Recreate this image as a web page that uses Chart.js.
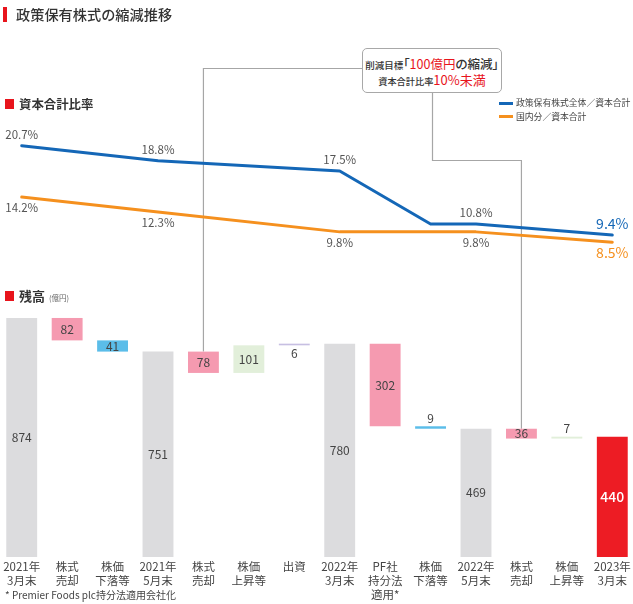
<!DOCTYPE html>
<html><head><meta charset="utf-8">
<script src="https://cdn.jsdelivr.net/npm/chart.js@4.4.0/dist/chart.umd.min.js"></script>
<style>
html,body{margin:0;padding:0;background:#fff;overflow:hidden;width:633px;height:604px;font-family:"Noto Sans CJK JP","Noto Sans",sans-serif;color:#333}
#wrap{position:relative;width:633px;height:604px;overflow:hidden}
#c{position:absolute;left:-1px;top:0}
.abs{position:absolute;white-space:nowrap;z-index:2}
.red{color:#e8141c}
#box{position:absolute;left:362px;top:48px;width:140px;height:45px;box-sizing:border-box;border:1px solid #a8a8a8;border-radius:5px;background:#fff;z-index:3;font-feature-settings:"palt"}
#box div{position:absolute;left:0;width:100%;text-align:center;white-space:nowrap;color:#333}
</style></head>
<body><div id="wrap">
<canvas id="c" width="636" height="604" style="width:636px;height:604px"></canvas>

<div class="abs" style="left:3px;top:7px;width:4px;height:15px;background:#e8141c"></div>
<div class="abs" style="left:16px;top:4px;font-size:14.2px;line-height:20px;font-weight:500;color:#333">政策保有株式の縮減推移</div>

<div class="abs" style="left:5px;top:99px;width:9px;height:10px;background:#e8141c"></div>
<div class="abs" style="left:19px;top:96px;font-size:12.4px;line-height:16px;font-weight:bold;color:#333">資本合計比率</div>

<div class="abs" style="left:5px;top:291px;width:9px;height:10px;background:#e8141c"></div>
<div class="abs" style="left:19px;top:288px;font-size:13px;line-height:16px;font-weight:bold;color:#333">残高<span style="font-size:7.5px;font-weight:normal;color:#666;margin-left:4px">(億円)</span></div>

<div class="abs" style="left:499px;top:102px;width:14px;height:3px;background:#1467b7"></div>
<div class="abs" style="left:516px;top:96px;font-size:8.8px;line-height:14px;color:#444">政策保有株式全体／資本合計</div>
<div class="abs" style="left:499px;top:115px;width:14px;height:3px;background:#f5901e"></div>
<div class="abs" style="left:516px;top:109.5px;font-size:8.8px;line-height:14px;color:#444">国内分／資本合計</div>

<div id="box">
  <div style="top:4px;line-height:18px"><span style="font-size:9.5px;font-weight:500">削減目標</span><span style="font-size:12.5px;font-weight:500">「<span class="red" style="font-weight:400">100億円</span>の縮減」</span></div>
  <div style="top:20px;line-height:18px"><span style="font-size:9.2px;font-weight:500">資本合計比率</span><span class="red" style="font-size:13px;font-weight:400">10%未満</span></div>
</div>

<div class="abs" style="left:5px;top:588px;font-size:10px;line-height:14px;color:#444">* Premier Foods plc持分法適用会社化</div>
</div>
<script>
// ---- data ----
const categories = [
  ['2021年','3月末'], ['株式','売却'], ['株価','下落等'], ['2021年','5月末'],
  ['株式','売却'], ['株価','上昇等'], ['出資'], ['2022年','3月末'],
  ['PF社','持分法','適用*'], ['株価','下落等'], ['2022年','5月末'],
  ['株式','売却'], ['株価','上昇等'], ['2023年','3月末']
];
const amounts = [874, -82, -41, 751, -78, 101, 6, 780, -302, -9, 469, -36, 7, 440];
const kinds = ['total','sale','drop','total','sale','rise','invest','total','sale','drop','total','sale','rise','final'];
const ratioAll      = [20.7, null, null, 18.8, null, null, null, 17.5, null, 10.8, 10.8, null, null, 9.4];
const ratioDomestic = [14.2, null, null, 12.3, null, null, null, 9.8, null, null, 9.8, null, null, 8.5];
const ratioAllLabeled = [0, 3, 7, 10, 13];
const ratioDomesticLabeled = [0, 3, 7, 10, 13];

// ---- derived ----
const colorsByKind = {total:'#dcdcde', sale:'#f59ab0', drop:'#5bbde9', rise:'#e2efda', invest:'#c7bfe2', final:'#ed1c24'};
const floats = [];
let running = 0;
amounts.forEach((v, i) => {
  if (kinds[i] === 'total' || kinds[i] === 'final') { floats.push([0, v]); running = v; }
  else { const n = running + v; floats.push([Math.min(running, n), Math.max(running, n)]); running = n; }
});
const FONT = '"Noto Sans CJK JP","Noto Sans",sans-serif';

const connectorPlugin = {
  id: 'connectors',
  beforeDatasetsDraw(chart) {
    const {ctx, scales: {x, y}} = chart;
    ctx.save();
    ctx.strokeStyle = '#a6a6a6'; ctx.lineWidth = 1.2;
    const xL = x.getPixelForValue(4), yL = y.getPixelForValue(floats[4][1]);
    ctx.beginPath(); ctx.moveTo(364, 68.5); ctx.lineTo(xL, 68.5); ctx.lineTo(xL, yL); ctx.stroke();
    const xR = x.getPixelForValue(11), yR = y.getPixelForValue(floats[11][1]);
    ctx.beginPath(); ctx.moveTo(433.5, 93); ctx.lineTo(433.5, 160.5); ctx.lineTo(xR, 160.5); ctx.lineTo(xR, yR); ctx.stroke();
    ctx.restore();
  }
};

const labelPlugin = {
  id: 'vlabels',
  afterDatasetsDraw(chart) {
    const ctx = chart.ctx;
    ctx.save();
    ctx.textAlign = 'center'; ctx.textBaseline = 'middle';
    chart.getDatasetMeta(0).data.forEach((bar, i) => {
      const top = Math.min(bar.y, bar.base), bottom = Math.max(bar.y, bar.base);
      let ty;
      if (bottom - top < 5) ty = kinds[i] === 'invest' ? bottom + 8.5 : top - 8;
      else ty = (top + bottom) / 2;
      if (kinds[i] === 'final') { ctx.fillStyle = '#fff'; ctx.font = '500 14px ' + FONT; }
      else { ctx.fillStyle = '#444'; ctx.font = '12px ' + FONT; }
      ctx.fillText(String(Math.abs(amounts[i])), bar.x, ty);
    });
    const last = amounts.length - 1;
    const doLine = (dsIndex, vals, labeled, dir, color) => {
      const meta = chart.getDatasetMeta(dsIndex);
      labeled.forEach(i => {
        const p = meta.data[i];
        if (i === last) { ctx.fillStyle = color; ctx.font = '14px ' + FONT; }
        else { ctx.fillStyle = '#555'; ctx.font = '11.5px ' + FONT; }
        ctx.fillText(vals[i].toFixed(1) + '%', p.x, p.y + dir * 11);
      });
    };
    doLine(1, ratioAll, ratioAllLabeled, -1, '#1467b7');
    doLine(2, ratioDomestic, ratioDomesticLabeled, 1, '#f5901e');
    ctx.restore();
  }
};

new Chart(document.getElementById('c'), {
  type: 'bar',
  data: {
    labels: categories,
    datasets: [
      { type: 'bar', data: floats, backgroundColor: kinds.map(k => colorsByKind[k]),
        borderWidth: 0, barPercentage: 0.68, categoryPercentage: 1, yAxisID: 'y', order: 3 },
      { type: 'line', data: ratioAll, borderColor: '#1467b7', borderWidth: 3, pointRadius: 0,
        spanGaps: true, tension: 0, yAxisID: 'y2', order: 1, borderJoinStyle: 'round', borderCapStyle: 'round' },
      { type: 'line', data: ratioDomestic, borderColor: '#f5901e', borderWidth: 3, pointRadius: 0,
        spanGaps: true, tension: 0, yAxisID: 'y2', order: 2, borderJoinStyle: 'round', borderCapStyle: 'round' }
    ]
  },
  options: {
    responsive: false, animation: false, devicePixelRatio: 1,
    layout: { padding: 0 },
    plugins: { legend: { display: false }, tooltip: { enabled: false } },
    scales: {
      x: {
        grid: { display: false, drawTicks: false }, border: { display: false },
        ticks: { color: '#444', font: { family: FONT, size: 11.5, lineHeight: 1.22 }, padding: 3,
                 maxRotation: 0, autoSkip: false },
        afterFit: (s) => { s.height = 47; }
      },
      y: { display: false, min: 0, max: 2036.6 },
      y2: { display: false, min: -31.34, max: 39.14 }
    }
  },
  plugins: [connectorPlugin, labelPlugin]
});
</script>
</body></html>
